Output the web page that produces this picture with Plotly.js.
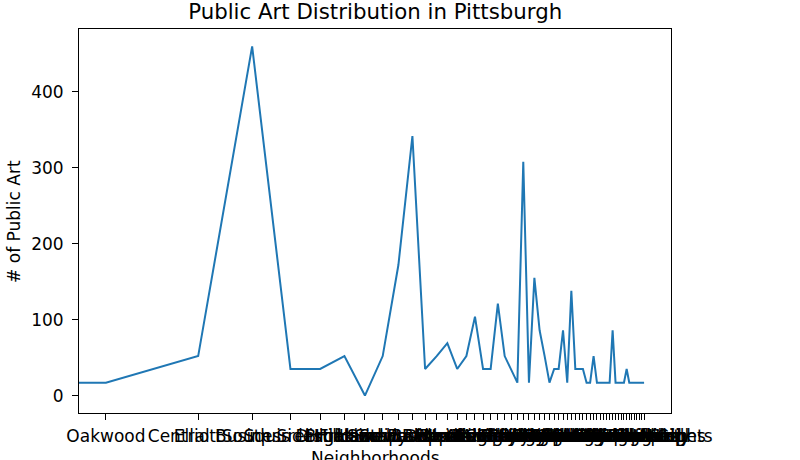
<!DOCTYPE html>
<html>
<head>
<meta charset="utf-8">
<script src="https://cdn.plot.ly/plotly-3.0.1.min.js"></script>
<style>html,body{margin:0;padding:0;background:#fff;}#chart{width:800px;height:460px;}</style>
</head>
<body>
<div id="chart"></div>
<script>
const neighborhoods = [
  "Perry North", "Oakwood", "Elliott", "Central Business District", "South Side Flats",
  "Squirrel Hill South", "Brookline", "Highland Park", "Hazelwood", "Shadyside",
  "Strip District", "Lower Lawrenceville", "Beechview", "Bloomfield", "Upper Hill",
  "East Liberty", "North Shore", "Carrick", "Greenfield", "Mount Washington",
  "Point Breeze", "Allegheny West", "Troy Hill", "Central Oakland", "Polish Hill",
  "Allegheny Center", "Central Northside", "Garfield", "Westwood", "Crafton Heights",
  "Sheraden", "Lincoln Place", "Spring Hill-City View", "Manchester", "Homewood South",
  "Knoxville", "Brighton Heights", "Morningside", "Swisshelm Park", "Regent Square",
  "Marshall-Shadeland", "Duquesne Heights", "Beltzhoover", "West End", "Fineview",
  "Squirrel Hill North", "Overbrook", "Larimer", "East Hills", "Windgap",
  "Bluff", "South Side Slopes", "Chartiers City", "Banksville", "Summer Hill",
  "Esplen", "Friendship", "Stanton Heights"
];
const artCounts = [
  17, 17, 52, 460, 35,
  35, 52, 0, 52, 172,
  342, 35, 52, 69, 35,
  52, 104, 35, 35, 121,
  52, 35, 17, 308, 17,
  155, 86, 52, 17, 35,
  35, 86, 17, 138, 35,
  35, 35, 17, 17, 52,
  17, 17, 17, 17, 17,
  86, 17, 17, 17, 17,
  35, 17, 17, 17, 17,
  17, 17, 17
];
const yTicks = [0, 100, 200, 300, 400];

// categorical positions 0..N-1 on a log x axis; non-positive position is clipped to a tiny value (as matplotlib does)
const catPos = neighborhoods.map((_, i) => (i > 0 ? i : 1e-30));
const nMax = neighborhoods.length - 1;
const lx = Math.log10(nMax);
const xRange = [-0.05 * lx, lx * 1.05];
const yMin = Math.min(...artCounts), yMax = Math.max(...artCounts);
const yPad = 0.05 * (yMax - yMin);

const fam = "DejaVu Sans, sans-serif";
const f = (s) => ({family: fam, color: "#000", size: s});

Plotly.newPlot("chart", [{
  x: catPos,
  y: artCounts,
  type: "scatter",
  mode: "lines",
  line: {color: "#1f77b4", width: 2},
  hoverinfo: "skip"
}], {
  width: 800, height: 460,
  margin: {l: 79, r: 129, t: 29, b: 47},
  paper_bgcolor: "#fff", plot_bgcolor: "#fff",
  showlegend: false,
  font: f(17),
  title: {text: "Public Art Distribution in Pittsburgh", font: f(21.3),
          x: 0.469, xanchor: "center", y: 0.975, yanchor: "middle"},
  xaxis: {
    type: "log", range: xRange, autorange: false,
    tickmode: "array", tickvals: catPos, ticktext: neighborhoods,
    tickangle: 0, ticks: "outside", ticklen: 6, tickwidth: 1, tickcolor: "#000",
    ticklabelstandoff: 2,
    showgrid: false, zeroline: false,
    showline: true, mirror: true, linecolor: "#000", linewidth: 1,
    tickfont: f(17)
  },
  yaxis: {
    range: [yMin - yPad, yMax + yPad], autorange: false,
    tickmode: "array", tickvals: yTicks,
    ticks: "outside", ticklen: 6, tickwidth: 1, tickcolor: "#000",
    ticklabelstandoff: 5,
    showgrid: false, zeroline: false,
    showline: true, mirror: true, linecolor: "#000", linewidth: 1,
    tickfont: f(17)
  },
  annotations: [
    {text: "Neighborhoods", xref: "paper", yref: "paper", x: 0.5, y: -0.118,
     xanchor: "center", yanchor: "middle", showarrow: false, font: f(17)},
    {text: "# of Public Art", xref: "paper", yref: "paper", x: -0.11, y: 0.5,
     xanchor: "center", yanchor: "middle", textangle: -90, showarrow: false, font: f(17)}
  ]
}, {displayModeBar: false, staticPlot: true});
</script>
</body>
</html>
